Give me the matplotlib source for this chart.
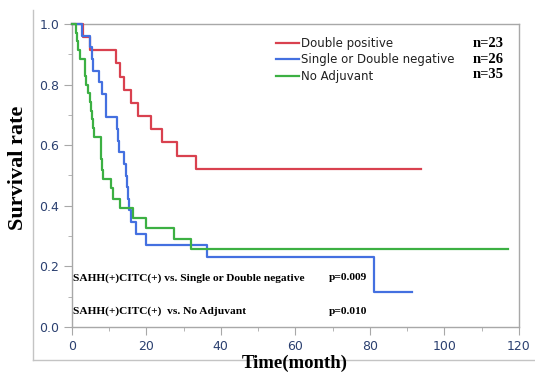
import matplotlib
matplotlib.use("Agg")
import matplotlib.pyplot as plt
from matplotlib.lines import Line2D
from matplotlib.ticker import MultipleLocator

# Kaplan-Meier step data (time in months, survival)
red_t = [0, 3.0, 4.9, 11.9, 13.0, 14.1, 15.9, 17.7, 21.3, 24.3, 28.2, 33.3, 93.8]
red_s = [1.0, 0.957, 0.913, 0.870, 0.826, 0.783, 0.739, 0.696, 0.652, 0.609, 0.565, 0.522, 0.522]

blue_t = [0, 2.7, 4.9, 5.5, 5.7, 7.3, 8.2, 9.1, 9.3, 12.2, 12.4, 12.6, 13.9, 14.6,
          14.9, 15.2, 15.5, 15.8, 17.2, 19.8, 36.2, 81.0, 91.4]
blue_s = [1.0, 0.962, 0.923, 0.885, 0.846, 0.808, 0.769, 0.731, 0.692, 0.654, 0.615,
          0.577, 0.538, 0.500, 0.462, 0.423, 0.385, 0.346, 0.308, 0.269, 0.231, 0.115, 0.115]

green_t = [0, 1.2, 1.5, 1.8, 2.1, 3.5, 3.7, 3.9, 4.3, 4.8, 5.2, 5.5, 5.7, 6.1, 7.8, 7.9,
           8.0, 8.5, 10.5, 11.2, 13.0, 16.5, 19.9, 27.5, 32.0, 117.0]
green_s = [1.0, 0.971, 0.943, 0.914, 0.886, 0.857, 0.829, 0.800, 0.771, 0.743, 0.714,
           0.686, 0.657, 0.626, 0.590, 0.555, 0.518, 0.488, 0.459, 0.422, 0.393, 0.360,
           0.328, 0.289, 0.256, 0.256]

labels = ["Double positive", "Single or Double negative", "No Adjuvant"]
counts = ["n=23", "n=26", "n=35"]
colors = ["#d9414f", "#4470e0", "#3cb043"]
comparisons = ["SAHH(+)CITC(+) vs. Single or Double negative", "SAHH(+)CITC(+)  vs. No Adjuvant"]
pvalues = ["p=0.009", "p=0.010"]

serif = "Liberation Serif"
tick_color = "#2b4070"
frame_color = "#a8a8a8"

fig = plt.figure(figsize=(5.35, 3.73), dpi=100)
ax = fig.add_axes([71.7 / 535, 1 - 327 / 373, (519 - 71.7) / 535, (327 - 24) / 373])

for t, s, c, lab in zip([red_t, blue_t, green_t], [red_s, blue_s, green_s], colors, labels):
    ax.step(t, s, where="post", color=c, lw=1.6, label=lab, clip_on=False, zorder=3)

ax.set_xlim(0, 120)
ax.set_ylim(0, 1.0)
ax.xaxis.set_major_locator(MultipleLocator(20))
ax.xaxis.set_minor_locator(MultipleLocator(10))
ax.yaxis.set_major_locator(MultipleLocator(0.2))
ax.yaxis.set_minor_locator(MultipleLocator(0.1))
ax.yaxis.set_major_formatter(plt.FormatStrFormatter("%.1f"))
ax.tick_params(which="major", length=6, color=frame_color, labelsize=9,
               labelcolor=tick_color, pad=3)
ax.tick_params(which="minor", length=3, color=frame_color)
for sp in ax.spines.values():
    sp.set_color(frame_color)
    sp.set_linewidth(1.0)

leg = ax.legend(loc="upper left", bbox_to_anchor=(0.457, 0.958), frameon=False,
                fontsize=8.5, handlelength=1.9, handletextpad=0.25, labelspacing=0.3,
                borderpad=0, borderaxespad=0)
for txt in leg.get_texts():
    txt.set_color("#202020")

for y, n in zip([0.936, 0.884, 0.832], counts):
    ax.text(0.896, y, n, transform=ax.transAxes, fontsize=10.5, fontweight="bold",
            family=serif, va="center")

for y, comp, p in zip([0.162, 0.052], comparisons, pvalues):
    ax.text(0.004, y, comp, transform=ax.transAxes, fontsize=8.2, fontweight="bold",
            family=serif, va="center")
    ax.text(0.574, y, p, transform=ax.transAxes, fontsize=8.2, fontweight="bold",
            family=serif, va="center")

fig.text(18 / 535, 1 - 168 / 373, "Survival rate", rotation=90, ha="center", va="center",
         fontsize=16, fontweight="bold", family=serif)
fig.text(295 / 535, 1 - 368 / 373, "Time(month)", ha="center", va="baseline",
         fontsize=13.5, fontweight="bold", family=serif)

# outer report frame
fig.add_artist(Line2D([32.7 / 535, 32.7 / 535], [1 - 10 / 373, 1 - 360 / 373],
                      color="#c4c4c4", lw=1.0))
fig.add_artist(Line2D([32.7 / 535, 1.0], [1 - 360 / 373, 1 - 360 / 373],
                      color="#c4c4c4", lw=1.0))

fig.savefig("out.png", dpi=100)
